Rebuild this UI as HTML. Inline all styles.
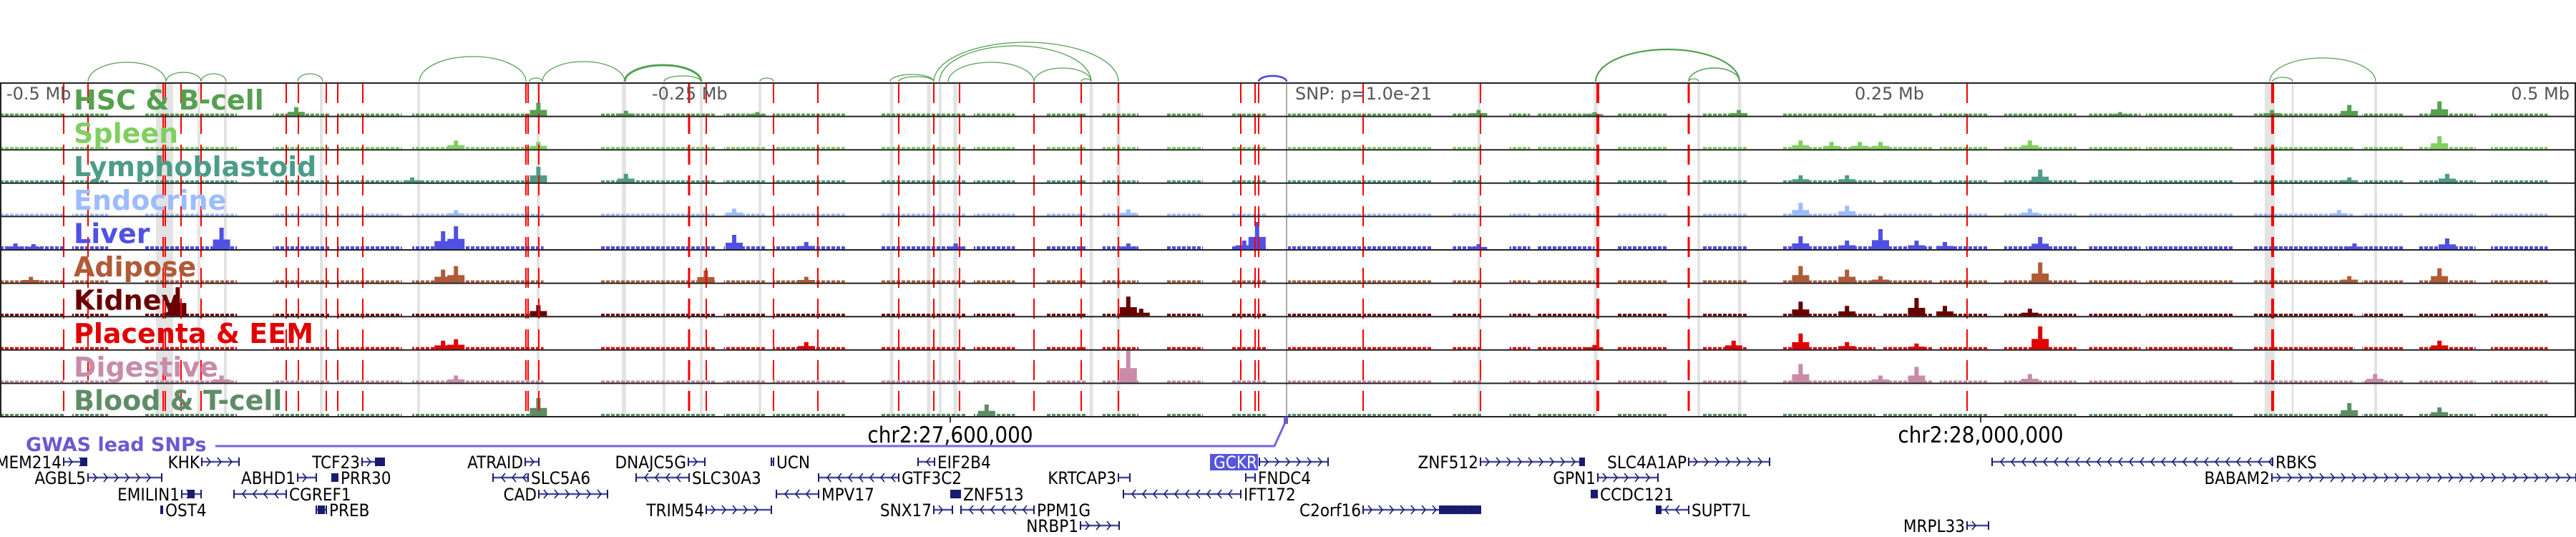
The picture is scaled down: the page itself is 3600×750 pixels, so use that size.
<!DOCTYPE html>
<html><head><meta charset="utf-8">
<style>
html,body{margin:0;padding:0;background:#fff;}
svg{display:block;}
.lab{font-family:"DejaVu Sans","Liberation Sans",sans-serif;font-weight:bold;font-size:38px;}
.mb{font-family:"DejaVu Sans","Liberation Sans",sans-serif;font-size:24px;fill:#555;}
.gene{font-family:"DejaVu Sans Condensed","Liberation Sans Narrow","DejaVu Sans",sans-serif;font-size:24px;fill:#000;}
.chr{font-family:"DejaVu Sans Condensed","Liberation Sans Narrow","DejaVu Sans",sans-serif;font-size:31px;fill:#000;}
</style></head>
<body>
<svg id="fig" width="3600" height="750" viewBox="0 0 3600 750" xmlns="http://www.w3.org/2000/svg">
<defs>
<pattern id="gapmask" width="7" height="10" patternUnits="userSpaceOnUse"><rect x="0" y="0" width="5" height="10" fill="#fff"/></pattern>
<mask id="noisemask" maskUnits="userSpaceOnUse" x="0" y="0" width="3600" height="750"><rect x="0" y="0" width="3600" height="750" fill="url(#gapmask)"/></mask>
</defs>
<g id="bands"></g>
<g id="bars"></g>
<g id="redlines"></g>
<g id="borders"></g>
<g id="arcs"></g>
<g id="labels"></g>
<text class="mb" x="9" y="139">-0.5 Mb</text>
<text class="mb" x="911" y="139">-0.25 Mb</text>
<text class="mb" x="1810" y="139">SNP: p=1.0e-21</text>
<text class="mb" x="2689" y="139" text-anchor="end">0.25 Mb</text>
<text class="mb" x="3591" y="139" text-anchor="end">0.5 Mb</text>
<line x1="1328" y1="582" x2="1328" y2="590" stroke="#000" stroke-width="1.5"/>
<line x1="2768" y1="582" x2="2768" y2="590" stroke="#000" stroke-width="1.5"/>
<text class="chr" x="1328" y="618" text-anchor="middle">chr2:27,600,000</text>
<text class="chr" x="2768" y="618" text-anchor="middle">chr2:28,000,000</text>
<text x="36" y="630" font-family="DejaVu Sans, Liberation Sans, sans-serif" font-weight="bold" font-size="27" fill="#6a5ad0">GWAS lead SNPs</text>
<polyline points="301,623 1781,623 1797,588" fill="none" stroke="#7766dd" stroke-width="3"/>
<rect x="1794" y="582" width="6" height="10" fill="#6a5ad0"/>
<g id="genes"></g>
</svg>
<script>
// ---- data ----
const trackNames = ["HSC & B-cell","Spleen","Lymphoblastoid","Endocrine","Liver","Adipose","Kidney","Placenta & EEM","Digestive","Blood & T-cell"];
const trackColors = ["#56a050","#80cf60","#4c9c88","#9cbcff","#5050e4","#b05a38","#680000","#e00000","#c88ca8","#5e8c66"];
const noiseLevel = [3,3,3,3,4,3,3,3,3,3];
// low-signal intervals in kb relative to lead SNP
const noiseStart = [-500,-472,-444,-394,-369,-340,-267,-219,-200,-158,-122,-94,-72,-47,-22,0,64,86,97,128,161,192,231,253,278,311,333,375,417,439,467];
const noiseEnd   = [-475,-458,-408,-372,-344,-289,-222,-203,-172,-125,-106,-78,-58,-33,-8,56,75,94,119,147,178,228,250,272,306,331,367,414,433,461,489];
// peaks per track: position (kb) and signal height
const peakPos = [
 [-385,-291,-257,-206,74,119,175,323,382,412,447],
 [-323,-291,199,211,222,230,288,447],
 [-291,-257,-340,199,217,292,412,450],
 [-323,-215,-62,199,217,288,408],
 [-494,-487,-414,-328,-323,-215,-187,-129,-62,-17,-12,74,199,217,230,244,255,292,414,450],
 [-488,-328,-323,-226,-187,199,217,230,292,447,412],
 [-431,-291,-62,-57,199,217,244,255,288],
 [-328,-323,-187,119,173,199,217,244,292,447],
 [-414,-323,-62,199,230,244,288,422],
 [-291,-117,412,447]
];
const peakVal = [
 [12,18,7,5,8,5,8,5,8,15,20],
 [12,10,12,10,10,10,12,18],
 [22,12,7,10,10,18,7,12],
 [8,10,9,18,14,10,8],
 [8,7,30,25,32,20,10,8,8,12,38,7,18,12,28,12,10,17,8,15],
 [8,18,23,17,8,23,18,9,28,20,9],
 [40,15,27,10,20,14,25,14,10],
 [12,14,10,6,12,22,10,8,32,12],
 [10,10,45,26,10,22,12,12],
 [25,16,18,12]
];
// ---- layout ----
const W=3600, T0=116, TH=46.6, NT=10;
const X = kb => 1800 + kb*3.6;
const NS="http://www.w3.org/2000/svg";
function mk(tag, attrs, parent){const e=document.createElementNS(NS,tag);for(const k in attrs)e.setAttribute(k,attrs[k]);parent.appendChild(e);return e;}

// gray bands
const bandX=[221,231,278,315,449,585,752,872,928,980,1062,1246,1298,1314,1335,1525,1563,2067,2230,2374,2431,3172,3204,3320];
const bandW=[6,22,4,4,4,4,4,6,4,4,4,5,5,4,5,5,5,4,5,4,5,14,3,4];
const gB=document.getElementById('bands');
bandX.forEach((x,i)=>{const r=mk('rect',{x:x-bandW[i]/2,y:T0,width:bandW[i],height:TH*NT,fill:'#e3e3e3'},gB);

});
const sl=mk('line',{x1:1798,y1:T0,x2:1798,y2:T0+TH*NT,stroke:'#aaa','stroke-width':2},gB);



// signal bars
const gBars=document.getElementById('bars');
for(let t=0;t<NT;t++){
  const base=T0+TH*(t+1)-1;
  const g=mk('g',{fill:trackColors[t]},gBars);
  
  
  const ng=mk('g',{mask:'url(#noisemask)'},g);
  noiseStart.forEach((s,i)=>{
    const x1=X(s), x2=X(noiseEnd[i]);
    const r=mk('rect',{x:x1,y:base-noiseLevel[t],width:x2-x1,height:noiseLevel[t]},ng);
    
    
  });
  peakPos[t].forEach((p,i)=>{
    const v=peakVal[t][i];
    const r=mk('rect',{x:X(p)-3,y:base-v,width:6,height:v},g);
    
    
    const s=mk('rect',{x:X(p)-12,y:base-v*0.45,width:24,height:v*0.45},g);
    
    
  });
}

// red dashed SNP lines
const redX=[89,123,228,231,253,281,400,417,456,472,507,735,738,753,963,987,1081,1143,1256,1305,1341,1445,1511,1563,1734,1754,1759,1905,2069,2233,2360,2749,3176];
const redW=[2,2,2,2,2,2,2,2,2,2,2,2,2,2,3,2,2,2,2,2,2,2,2,2,2,2,2,2,2,4,3,2,4];
const gR=document.getElementById('redlines');
redX.forEach((x,i)=>{const l=mk('line',{x1:x,y1:T0,x2:x,y2:T0+TH*NT,stroke:'#ff0000','stroke-width':redW[i],'stroke-dasharray':'28 15'},gR);

});

// borders
const gBo=document.getElementById('borders');
for(let t=0;t<=NT;t++){const l=mk('line',{x1:0,y1:T0+TH*t,x2:W,y2:T0+TH*t,stroke:'#222','stroke-width':2},gBo);

}
[[1,'left'],[W-1,'right']].forEach(([x,n])=>{const l=mk('line',{x1:x,y1:T0,x2:x,y2:T0+TH*NT,stroke:'#222','stroke-width':2},gBo);

});

// arcs
const arcS=[123,232,281,416,586,740,758,873,928,1062,1244,1256,1305,1313,1325,1445,1511,2230,2360,2360,3172,3176,1759];
const arcE=[232,281,316,451,735,758,873,980,980,1081,1305,1305,1563,1525,1445,1525,1525,2431,2431,2374,3320,3204,1798];
const arcH=[27,13,11,11,35,5,28,23,8,5,10,7,55,50,27,19,4,45,19,4,33,6,8];
const arcWd=[1.3,1.3,1.3,1.3,1.3,1.3,1.3,3,1.3,1.3,1.3,1.3,1.3,1.3,1.3,1.3,1.3,2.2,1.5,1.3,1.3,1.3,2.5];
const gA=document.getElementById('arcs');
arcS.forEach((s,i)=>{const e=arcE[i],rx=(e-s)/2,y=114;
const p=mk('path',{d:`M${s},${y} A${rx},${arcH[i]} 0 0 1 ${e},${y}`,fill:'none',stroke:i==arcS.length-1?'#4444dd':'#55a055','stroke-width':arcWd[i]},gA);

});

// track labels
const gL=document.getElementById('labels');
trackNames.forEach((n,t)=>{const tx=mk('text',{class:'lab',x:103,y:T0+TH*t+37,fill:trackColors[t]},gL);tx.textContent=n;

});

// genes
const rowY=[645,667,690,712,734];
const genes=[
 ["TMEM214",0,89,121,1,"L",[112,121]],["KHK",0,282,334,1,"L"],["TCF23",0,506,537,1,"L",[524,537]],["ATRAID",0,734,753,1,"L"],
 ["DNAJC5G",0,962,985,1,"L"],["UCN",0,1078,1081,0,"R"],["EIF2B4",0,1283,1306,-1,"R"],["GCKR",0,1760,1856,1,"L"],
 ["ZNF512",0,2069,2214,1,"L",[2207,2214]],["SLC4A1AP",0,2360,2473,1,"L"],["RBKS",0,2784,3176,-1,"R"],
 ["AGBL5",1,123,226,1,"L"],["ABHD1",1,416,442,1,"L"],["PRR30",1,464,472,0,"R",[464,472]],["SLC5A6",1,689,738,-1,"R"],
 ["SLC30A3",1,889,963,-1,"R"],["GTF3C2",1,1144,1256,-1,"R"],["KRTCAP3",1,1563,1579,1,"L"],["FNDC4",1,1741,1754,-1,"R"],
 ["GPN1",1,2233,2317,1,"L"],["BABAM2",1,3175,3600,1,"L"],
 ["EMILIN1",2,254,281,1,"L",[262,272]],["CGREF1",2,327,400,-1,"R"],["CAD",2,753,849,1,"L"],["MPV17",2,1085,1144,-1,"R"],
 ["ZNF513",2,1329,1342,0,"R",[1329,1342]],["IFT172",2,1570,1734,-1,"R"],["CCDC121",2,2224,2232,0,"R",[2224,2232]],
 ["OST4",3,225,227,0,"R"],["PREB",3,442,456,0,"R",[444,454]],["TRIM54",3,987,1078,1,"L"],["SNX17",3,1305,1331,1,"L"],
 ["PPM1G",3,1343,1445,-1,"R"],["C2orf16",3,1905,2069,1,"L",[2011,2069]],["SUPT7L",3,2315,2360,-1,"R",[2315,2322]],
 ["NRBP1",4,1510,1564,1,"L"],["MRPL33",4,2749,2779,1,"L"]
];
const gG=document.getElementById('genes');
genes.forEach(g=>{
  const [name,row,x1,x2,dir,side,blk]=g, y=rowY[row];
  const grp=mk('g',{},gG);
  
  
  mk('line',{x1:x1,y1:y,x2:x2,y2:y,stroke:'#4a4aa0','stroke-width':2.5},grp);
  mk('line',{x1:x1,y1:y-6,x2:x1,y2:y+6,stroke:'#1a1a6e','stroke-width':2},grp);
  mk('line',{x1:x2,y1:y-6,x2:x2,y2:y+6,stroke:'#1a1a6e','stroke-width':2},grp);
  if(dir!==0){
    for(let x=x1+12;x<x2-4;x+=15){
      const d=dir>0?`M${x-5},${y-6} L${x},${y} L${x-5},${y+6}`:`M${x+5},${y-6} L${x},${y} L${x+5},${y+6}`;
      mk('path',{d:d,fill:'none',stroke:'#1a1a6e','stroke-width':1.6},grp);
    }
  }
  if(blk){mk('rect',{x:blk[0],y:y-6,width:blk[1]-blk[0],height:12,fill:'#1a1a6e'},grp);}
  let tx;
  if(name==="GCKR"){
    mk('rect',{x:1691,y:634,width:67,height:23,fill:'#5555dd'},grp);
    tx=mk('text',{class:'gene',x:1757,y:y+9,'text-anchor':'end',fill:'#fff',style:'fill:#fff'},grp);
  } else if(side==="L"){
    tx=mk('text',{class:'gene',x:x1-3,y:y+9,'text-anchor':'end'},grp);
  } else {
    tx=mk('text',{class:'gene',x:x2+4,y:y+9},grp);
  }
  tx.textContent=name;
});
</script>
</body></html>
